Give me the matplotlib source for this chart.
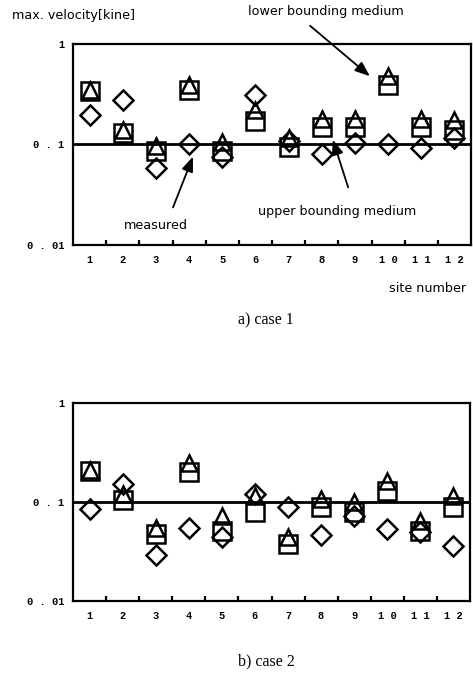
import matplotlib
matplotlib.use("Agg")
import matplotlib.pyplot as plt
import numpy as np

sites = list(range(1, 13))
x_labels = ["1", "2", "3", "4", "5", "6", "7", "8", "9", "1 0", "1 1", "1 2"]
y_labels = ["0 . 01", "0 . 1", "1"]

# case 1
c1_upper = [0.34, 0.13, 0.086, 0.35, 0.086, 0.17, 0.094, 0.149, 0.149, 0.39, 0.149, 0.138]
c1_lower = [0.35, 0.14, 0.096, 0.39, 0.105, 0.22, 0.115, 0.18, 0.18, 0.48, 0.18, 0.174]
c1_meas = [0.195, 0.28, 0.059, 0.10, 0.075, 0.31, 0.108, 0.081, 0.104, 0.10, 0.093, 0.117]

# case 2
c2_upper = [0.207, 0.105, 0.048, 0.20, 0.051, 0.079, 0.038, 0.088, 0.079, 0.13, 0.051, 0.088]
c2_lower = [0.21, 0.12, 0.054, 0.25, 0.073, 0.114, 0.044, 0.107, 0.10, 0.164, 0.065, 0.116]
c2_meas = [0.085, 0.152, 0.029, 0.055, 0.044, 0.12, 0.09, 0.046, 0.072, 0.053, 0.05, 0.036]

W, H = 473, 674
fig = plt.figure(figsize=(W / 100, H / 100), dpi=100)

mono = "Liberation Mono"
sans = "DejaVu Sans"
serif = "Liberation Serif"


def make_axes(rect, upper, lower, meas):
    ax = fig.add_axes(rect)
    ax.set_yscale("log")
    ax.set_ylim(0.01, 1)
    ax.set_xlim(0.5, 12.5)
    ax.axhline(0.1, color="black", lw=2.0, zorder=1)
    mk = dict(linestyle="none", markerfacecolor="none", markeredgecolor="black",
              markeredgewidth=1.8, zorder=3)
    ax.plot(sites, upper, marker="s", markersize=13, **mk)
    ax.plot(sites, lower, marker="^", markersize=12, **mk)
    ax.plot(sites, meas, marker="D", markersize=10, **mk)
    for s in ax.spines.values():
        s.set_linewidth(1.6)
    ax.set_xticks(sites)
    ax.set_xticklabels(x_labels, fontfamily=mono, fontsize=7.5, fontweight="bold")
    ax.set_xticks(np.arange(1.5, 12.0, 1.0), minor=True)
    ax.tick_params(axis="x", which="major", length=0, pad=7)
    ax.tick_params(axis="x", which="minor", length=3.5, width=1.6, direction="in")
    ax.set_yticks([0.01, 0.1, 1])
    ax.set_yticklabels(y_labels, fontfamily=mono, fontsize=7.5, fontweight="bold")
    ax.yaxis.set_minor_locator(matplotlib.ticker.NullLocator())
    ax.tick_params(axis="y", which="major", length=0, pad=6)
    return ax


ax1 = make_axes([73 / W, 1 - 245 / H, 398 / W, 201 / H], c1_upper, c1_lower, c1_meas)
ax2 = make_axes([73 / W, 1 - 601 / H, 397 / W, 198 / H], c2_upper, c2_lower, c2_meas)


def px(x, y):
    return (x / W, 1 - y / H)


fs = 9.2
fig.text(*px(12, 16), "max. velocity[kine]", fontfamily=sans, fontsize=fs, va="center", ha="left")
fig.text(*px(466, 289), "site number", fontfamily=sans, fontsize=fs, va="center", ha="right")
fig.text(*px(266, 320), "a) case 1", fontfamily=serif, fontsize=11.5, va="center", ha="center")
fig.text(*px(266, 661), "b) case 2", fontfamily=serif, fontsize=11.5, va="center", ha="center")

arrow = dict(arrowstyle="-|>,head_length=0.9,head_width=0.35", color="black", lw=1.3)
fig.text(*px(326, 12), "lower bounding medium", fontfamily=sans, fontsize=fs, va="center", ha="center")
ax1.annotate("", xy=px(372, 78), xycoords="figure fraction",
             xytext=px(308, 24), textcoords="figure fraction", arrowprops=arrow)
fig.text(*px(156, 226), "measured", fontfamily=sans, fontsize=fs, va="center", ha="center")
ax1.annotate("", xy=px(194, 154), xycoords="figure fraction",
             xytext=px(172, 210), textcoords="figure fraction", arrowprops=arrow)
fig.text(*px(337, 211), "upper bounding medium", fontfamily=sans, fontsize=fs, va="center", ha="center")
ax1.annotate("", xy=px(332, 137), xycoords="figure fraction",
             xytext=px(349, 190), textcoords="figure fraction", arrowprops=arrow)

fig.savefig("out.png", dpi=100)
